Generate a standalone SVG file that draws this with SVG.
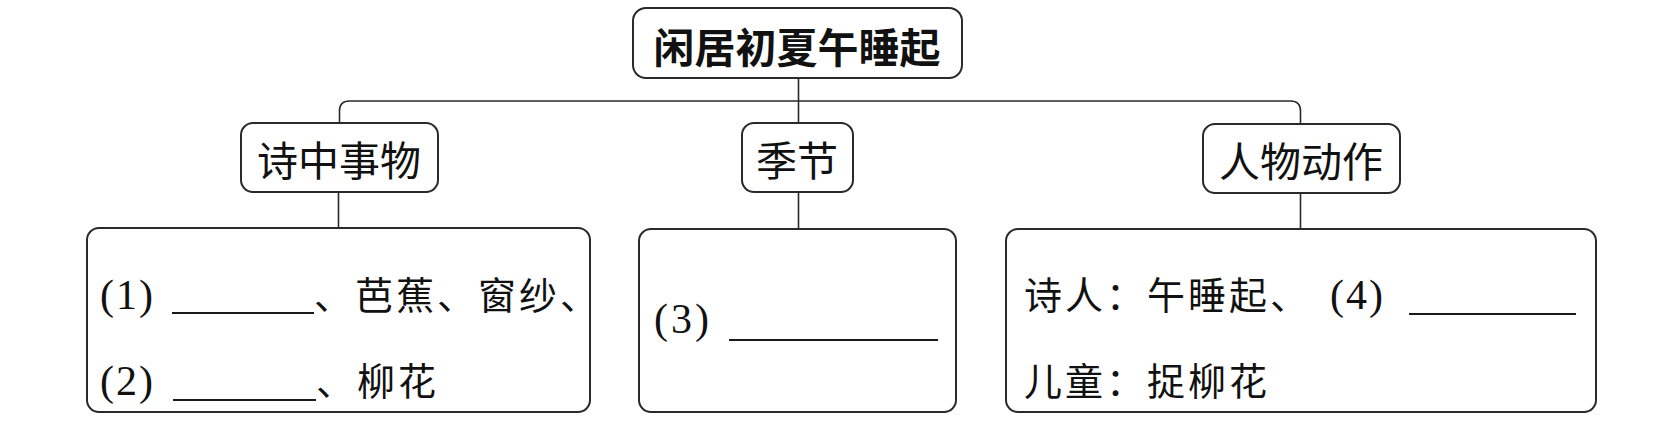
<svg xmlns="http://www.w3.org/2000/svg" width="1680" height="432" viewBox="0 0 1680 432">
<style>
.box{fill:#fff;stroke:#2a2a2a;stroke-width:2}
.conn{fill:none;stroke:#2a2a2a;stroke-width:1.6}
.blank{stroke:#1a1a1a;stroke-width:2}
.title{font-family:"Noto Sans CJK SC","Noto Sans",sans-serif;font-weight:bold;font-size:41px;fill:#111}
.sub{font-family:"Noto Sans CJK SC","Noto Sans",sans-serif;font-size:41px;fill:#111}
.body{font-family:"Noto Sans CJK SC","Noto Sans",sans-serif;font-size:38px;letter-spacing:3px;fill:#111}
.num{font-family:"Liberation Serif","Times New Roman",serif;font-size:42px;fill:#111}
</style>
<rect width="1680" height="432" fill="#fff"/>
<g id="connectors">
<path class="conn" d="M798.5,78 V123"/>
<path class="conn" d="M339.5,123 V111 Q339.5,101 349.5,101 H1290.5 Q1300.5,101 1300.5,111 V124"/>
<path class="conn" d="M338.5,192 V228"/>
<path class="conn" d="M798.5,192 V229"/>
<path class="conn" d="M1300.5,193 V229"/>
</g>
<g id="root">
<rect class="box" x="633" y="8" width="329" height="70" rx="13"/>
<text class="title" x="797" y="45" text-anchor="middle" dominant-baseline="central">闲居初夏午睡起</text>
</g>
<g id="things">
<rect class="box" x="241" y="123" width="197" height="69" rx="12"/>
<text class="sub" x="339" y="158" text-anchor="middle" dominant-baseline="central">诗中事物</text>
</g>
<g id="season">
<rect class="box" x="742" y="123" width="111" height="69" rx="12"/>
<text class="sub" x="797" y="158" text-anchor="middle" dominant-baseline="central">季节</text>
</g>
<g id="actions">
<rect class="box" x="1203" y="124" width="197" height="69" rx="12"/>
<text class="sub" x="1301" y="159" text-anchor="middle" dominant-baseline="central">人物动作</text>
</g>
<g id="things-detail">
<rect class="box" x="87" y="228" width="503" height="184" rx="12"/>
<text class="num" x="100" y="309" letter-spacing="2">(1)</text>
<line class="blank" x1="172" y1="313" x2="314" y2="313"/>
<text class="body" x="314" y="309">、芭蕉、窗纱、</text>
<text class="num" x="100" y="395" letter-spacing="2">(2)</text>
<line class="blank" x1="173" y1="400" x2="316" y2="400"/>
<text class="body" x="316" y="395">、柳花</text>
</g>
<g id="season-detail">
<rect class="box" x="639" y="229" width="317" height="183" rx="12"/>
<text class="num" x="654" y="333" letter-spacing="3">(3)</text>
<line class="blank" x1="729" y1="340" x2="938" y2="340"/>
</g>
<g id="actions-detail">
<rect class="box" x="1006" y="229" width="590" height="183" rx="12"/>
<text class="body" x="1024" y="309">诗人：午睡起、</text>
<text class="num" x="1330" y="309" letter-spacing="2">(4)</text>
<line class="blank" x1="1409" y1="314" x2="1576" y2="314"/>
<text class="body" x="1024" y="395">儿童：捉柳花</text>
</g>
</svg>
